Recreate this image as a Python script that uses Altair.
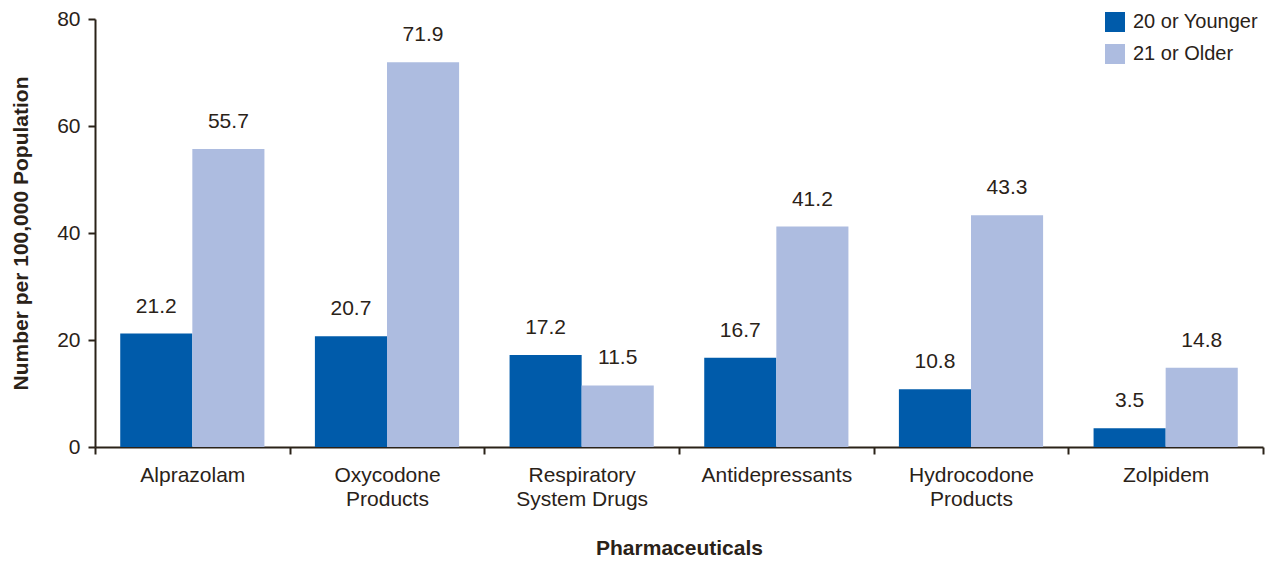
import altair as alt
import pandas as pd

categories = ["Alprazolam", "Oxycodone|Products", "Respiratory|System Drugs",
              "Antidepressants", "Hydrocodone|Products", "Zolpidem"]
young = [21.2, 20.7, 17.2, 16.7, 10.8, 3.5]
old = [55.7, 71.9, 11.5, 41.2, 43.3, 14.8]
groups = ["20 or Younger", "21 or Older"]
colors = ["#005baa", "#adbce0"]

rows = []
for c, y, o in zip(categories, young, old):
    rows.append({"cat": c, "group": groups[0], "value": y, "label": f"{y:.1f}"})
    rows.append({"cat": c, "group": groups[1], "value": o, "label": f"{o:.1f}"})
df = pd.DataFrame(rows)

FONT = "Liberation Sans"
TXT = "#2a2218"
FS = 21

x = alt.X("cat:N", sort=categories, title="Pharmaceuticals",
          scale=alt.Scale(paddingInner=0, paddingOuter=0),
          axis=alt.Axis(labelAngle=0, labelExpr="split(datum.label, '|')",
                        tickBand="extent", tickSize=7, tickWidth=2,
                        domainWidth=2, domainColor=TXT, tickColor=TXT,
                        labelFontSize=FS, labelFont=FONT, labelColor=TXT,
                        labelPadding=10, labelLineHeight=24,
                        titleFontSize=FS, titleFont=FONT, titleFontWeight="bold",
                        titleColor=TXT, titlePadding=28))
xo = alt.XOffset("group:N", sort=groups,
                 scale=alt.Scale(paddingInner=0, paddingOuter=0.35))
y = alt.Y("value:Q", title="Number per 100,000 Population",
          scale=alt.Scale(domain=[0, 80], nice=False),
          axis=alt.Axis(values=[0, 20, 40, 60, 80], grid=False, tickSize=7,
                        tickWidth=2, domainWidth=2, domainColor=TXT, tickColor=TXT,
                        labelFontSize=FS, labelFont=FONT, labelColor=TXT,
                        labelPadding=8,
                        titleFontSize=FS, titleFont=FONT, titleFontWeight="bold",
                        titleColor=TXT, titlePadding=25))
color = alt.Color("group:N", sort=groups,
                  scale=alt.Scale(domain=groups, range=colors),
                  legend=alt.Legend(title=None, orient="none", legendX=1010, legendY=-7,
                                    symbolType="square", symbolSize=400,
                                    symbolStrokeWidth=0,
                                    labelFontSize=FS - 1, labelFont=FONT, labelColor=TXT,
                                    rowPadding=12, labelOffset=8))

bars = alt.Chart(df).mark_bar().encode(x=x, xOffset=xo, y=y, color=color)
text = alt.Chart(df).mark_text(baseline="bottom", dy=-17, fontSize=FS, font=FONT,
                               color=TXT).encode(
    x=alt.X("cat:N", sort=categories), xOffset=xo, y="value:Q", text="label:N")

chart = (bars + text).properties(
    width=1168, height=428,
    autosize=alt.AutoSizeParams(type="none"),
    padding={"left": 87, "top": 11, "right": 3, "bottom": 112},
).configure_view(stroke=None)

chart.save("out.html", embed_options={"renderer": "svg", "actions": False})
